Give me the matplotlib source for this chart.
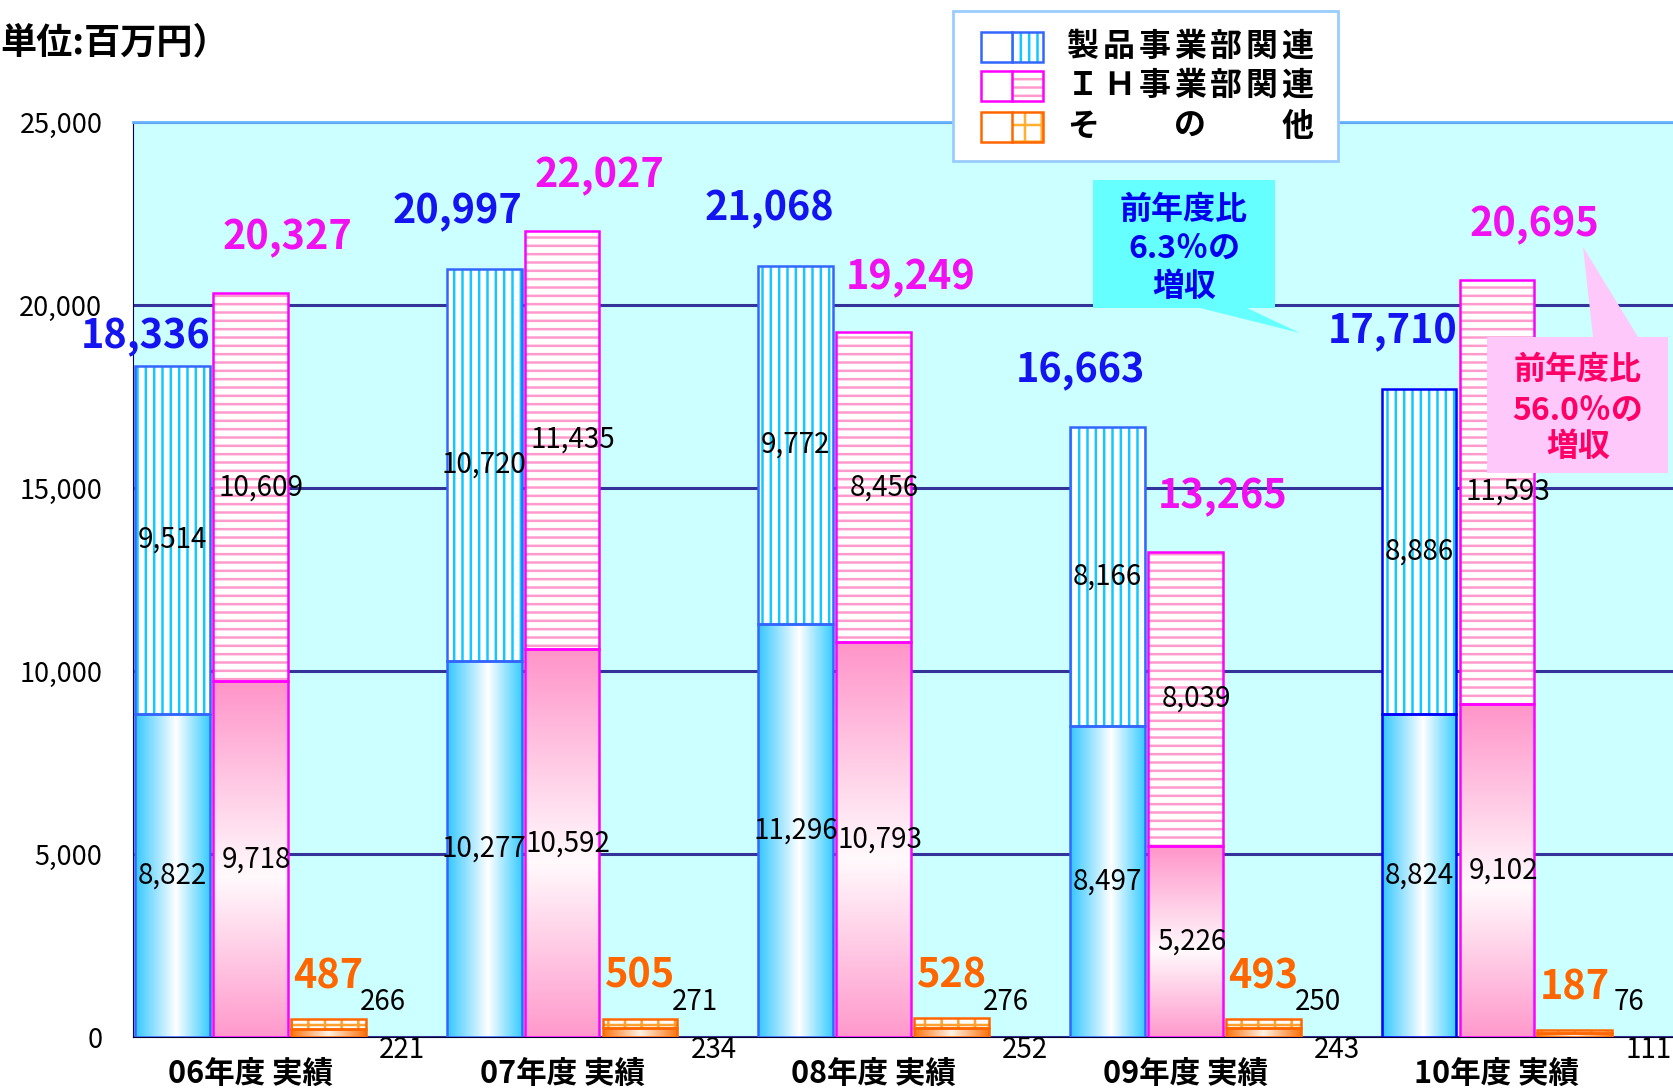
import numpy as np
import matplotlib
matplotlib.use("Agg")
import matplotlib.pyplot as plt
from matplotlib.patches import Rectangle, Polygon

plt.rcParams['font.family'] = ['Noto Sans CJK JP', 'DejaVu Sans']
plt.rcParams['hatch.linewidth'] = 1.8

# data (単位:百万円)
years = ['06年度 実績', '07年度 実績', '08年度 実績', '09年度 実績', '10年度 実績']
prod_low = [8822, 10277, 11296, 8497, 8824]
prod_up = [9514, 10720, 9772, 8166, 8886]
ih_low = [9718, 10592, 10793, 5226, 9102]
ih_up = [10609, 11435, 8456, 8039, 11593]
oth_low = [221, 234, 252, 243, 111]
oth_up = [266, 271, 276, 250, 76]
legend_labels = ['製品事業部関連', 'ＩＨ事業部関連', 'そ　　の　　他']
yticks = [0, 5000, 10000, 15000, 20000, 25000]

W, H = 1673, 1089
fig = plt.figure(figsize=(W / 100, H / 100), dpi=100)
ax = fig.add_axes([133 / W, 1 - 1037 / H, (W - 133) / W, (1037 - 122) / H])
ax.set_facecolor('#CCFFFF')

x = np.arange(len(years))
bw = 0.24


def grad(stops, cols, horizontal=True, n=256):
    t = np.linspace(0, 1, n)
    arr = np.stack([np.interp(t, stops, [c[k] for c in cols]) for k in range(3)], axis=-1)
    return arr[np.newaxis, :, :] if horizontal else arr[:, np.newaxis, :]


blue_grad = grad([0, 0.55, 1], [(0.2, 0.78, 1.0), (1, 1, 1), (0.22, 0.8, 1.0)])
pink_grad = grad([0, 0.45, 1], [(1.0, 0.6, 0.8), (1.0, 0.98, 0.99), (1.0, 0.58, 0.79)], horizontal=False)
orng_grad = grad([0, 0.5, 1], [(1.0, 0.45, 0.05), (1.0, 0.95, 0.9), (1.0, 0.45, 0.05)])


def draw_stack(xc, low, up, img, hatch, hcol, ecol):
    x0 = xc - bw / 2
    ax.imshow(img, extent=(x0, x0 + bw, 0, low), origin='lower', aspect='auto',
              interpolation='bilinear', zorder=2)
    ax.bar(xc, up, bw, bottom=low, color='white', hatch=hatch, edgecolor=hcol,
           linewidth=0, zorder=2)
    ax.bar(xc, low, bw, fill=False, edgecolor=ecol, lw=1.8, zorder=3)
    ax.bar(xc, up, bw, bottom=low, fill=False, edgecolor=ecol, lw=1.8, zorder=3)


blue_edges = ['#3366FF', '#3366FF', '#3366FF', '#3366FF', '#0000FF']
prod_tot_dy = [800, 1550, 1550, 1550, 1550]
for i in range(len(years)):
    xb, xp, xo = x[i] - 0.25, x[i], x[i] + 0.25
    draw_stack(xb, prod_low[i], prod_up[i], blue_grad, '||', '#11C8FF', blue_edges[i])
    draw_stack(xp, ih_low[i], ih_up[i], pink_grad, '--', '#FF9ACC', '#FF00FF')
    draw_stack(xo, oth_low[i], oth_up[i], orng_grad, '+', '#FFA030', '#FF6600')

    pt = prod_low[i] + prod_up[i]
    it = ih_low[i] + ih_up[i]
    ot = oth_low[i] + oth_up[i]
    ax.text(xb - 0.086, pt + prod_tot_dy[i], f'{pt:,}', color='#1414F0', fontsize=28.5,
            fontweight='bold', ha='center', va='center', zorder=4)
    ax.text(xp + 0.12, it + 1500, f'{it:,}', color='#F010F0', fontsize=28.5,
            fontweight='bold', ha='center', va='center', zorder=4)
    ax.text(xo, ot + 1150, f'{ot:,}', color='#FF6600', fontsize=28.5,
            fontweight='bold', ha='center', va='center', zorder=4)

    ax.text(xb, prod_low[i] / 2, f'{prod_low[i]:,}', fontsize=20, ha='center', va='center', zorder=4)
    ax.text(xb, prod_low[i] + prod_up[i] / 2, f'{prod_up[i]:,}', fontsize=20,
            ha='center', va='center', zorder=4)
    ax.text(xp + 0.02, ih_low[i] / 2, f'{ih_low[i]:,}', fontsize=20, ha='center', va='center', zorder=4)
    ax.text(xp + 0.035, ih_low[i] + ih_up[i] / 2, f'{ih_up[i]:,}', fontsize=20,
            ha='center', va='center', zorder=4)
    ax.text(xo + 0.175, 950, f'{oth_up[i]:,}', fontsize=20, ha='center', va='center', zorder=4)
    ax.text(xo + 0.236, -350, f'{oth_low[i]:,}', fontsize=20, ha='center', va='center',
            zorder=4, clip_on=False)

ax.set_xlim(-0.377, 4.565)
ax.set_ylim(0, 25000)
ax.set_yticks(yticks)
ax.set_yticklabels([f'{v:,}' for v in yticks], fontsize=19.5)
ax.set_xticks(x)
ax.set_xticklabels(years, fontsize=22, fontweight='bold')
ax.tick_params(axis='y', length=0, pad=22)
ax.tick_params(axis='x', length=0, pad=15)
ax.set_axisbelow(True)
ax.yaxis.grid(True, color='#333399', lw=2.2)
ax.spines['top'].set_color('#66B2FF')
ax.spines['top'].set_linewidth(2)
ax.spines['right'].set_visible(False)
ax.spines['left'].set_color('#000066')
ax.spines['bottom'].set_color('#000033')

# overlay in pixel coordinates for title, legend and callouts
ov = fig.add_axes([0, 0, 1, 1])
ov.set_xlim(0, W)
ov.set_ylim(H, 0)
ov.axis('off')

ov.text(0, 43, '単位:百万円）', fontsize=26, fontweight='bold', ha='left', va='center')

# legend
ov.add_patch(Rectangle((953, 11), 385, 150, facecolor='white', edgecolor='#99CCFF', lw=2))
leg_grads = [grad([0, 1], [(0.2, 0.72, 1.0), (0.65, 0.92, 1.0)]),
             grad([0, 1], [(1.0, 0.62, 0.92), (1.0, 0.86, 0.98)]),
             grad([0, 0.5, 1], [(1.0, 0.45, 0.05), (1.0, 0.8, 0.6), (1.0, 0.45, 0.05)])]
leg_hatch = [('||', '#11C8FF', '#3366FF'), ('--', '#FF9ACC', '#FF00FF'), ('+', '#FFB030', '#FF6600')]
for r, (lab, yc) in enumerate(zip(legend_labels, [47, 86, 127])):
    h, hc, ec = leg_hatch[r]
    ov.imshow(leg_grads[r], extent=(981, 1012, yc + 15, yc - 15), aspect='auto',
              interpolation='bilinear')
    ov.add_patch(Rectangle((1012, yc - 15), 31, 30, facecolor='white', hatch=h,
                           edgecolor=hc, lw=0))
    ov.add_patch(Rectangle((981, yc - 15), 62, 30, fill=False, edgecolor=ec, lw=1.8))
    ov.plot([1012, 1012], [yc - 15, yc + 15], color=ec, lw=1.8)
    for j, ch in enumerate(lab):
        if ch.strip():
            ov.text(1083 + j * 35.7, yc, ch, fontsize=23, fontweight='bold',
                    ha='center', va='center')

# callouts
ov.add_patch(Polygon([(1093, 180), (1275, 180), (1275, 308), (1247, 308), (1300, 333),
                      (1200, 308), (1093, 308)], closed=True, facecolor='#66FFFF', lw=0))
for txt, yy in zip(['前年度比', '6.3％の', '増収'], [210, 250, 287]):
    ov.text(1184, yy, txt, fontsize=23, fontweight='bold', color='#0000EE',
            ha='center', va='center')

ov.add_patch(Polygon([(1487, 337), (1593, 337), (1583, 247), (1638, 337), (1668, 337),
                      (1668, 473), (1487, 473)], closed=True, facecolor='#FFC8FA', lw=0))
for txt, yy in zip(['前年度比', '56.0％の', '増収'], [370, 412, 447]):
    ov.text(1578, yy, txt, fontsize=23, fontweight='bold', color='#FF0066',
            ha='center', va='center')

ov.set_xlim(0, W)
ov.set_ylim(H, 0)

fig.savefig('out.png', dpi=100)
